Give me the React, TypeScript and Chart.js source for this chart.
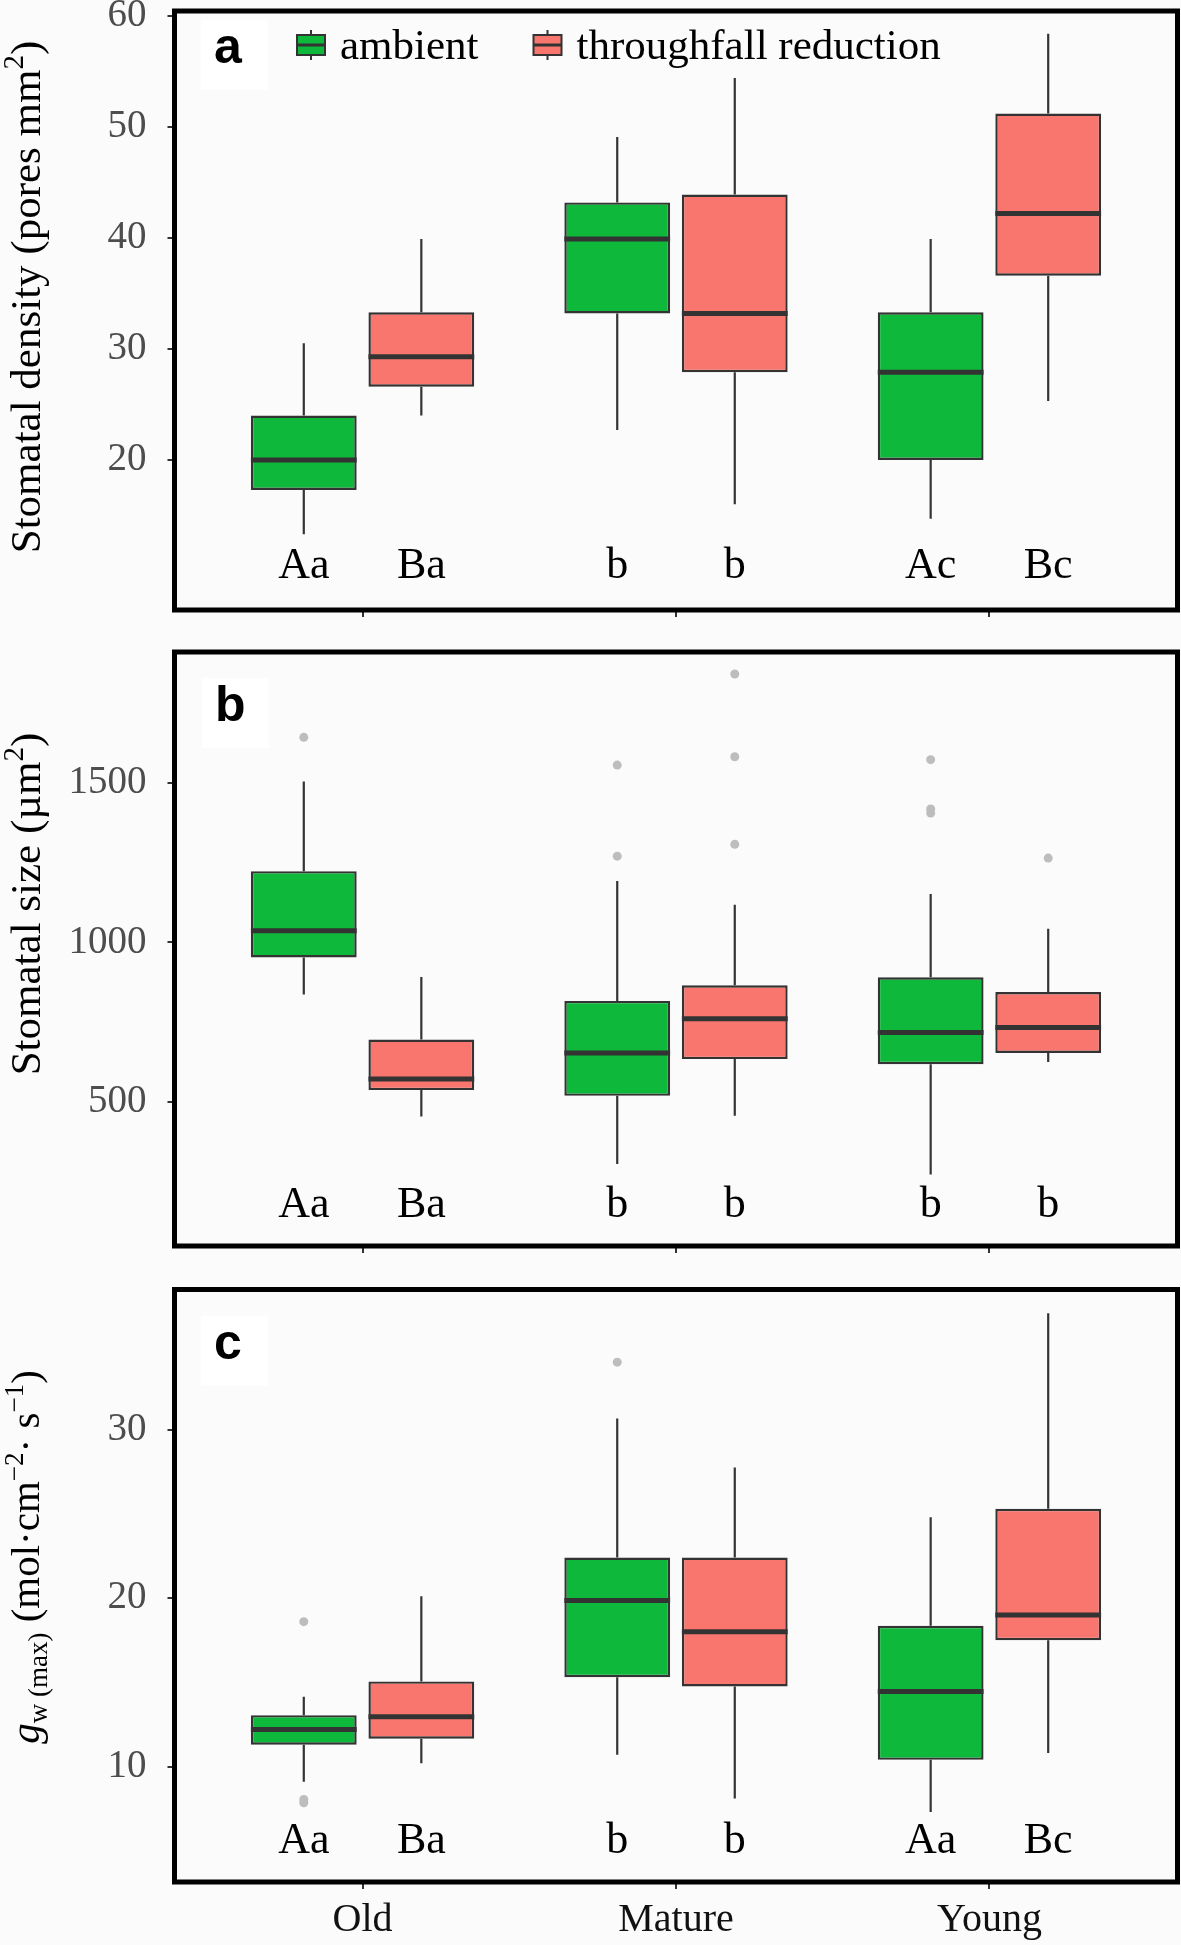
import React, { useEffect, useRef } from 'react';
import { Chart, registerables } from 'chart.js';

Chart.register(...registerables);

// ---------- data ----------
const categories = ['Old', 'Mature', 'Young'];
const seriesNames = ['ambient', 'throughfall reduction'];
const seriesColors = ['#0db83b', '#f8766d'];

// each entry: [lower whisker, Q1, median, Q3, upper whisker]
const densityAmbient = [[13.3, 17.3, 20.0, 24.0, 30.5], [22.7, 33.2, 39.9, 43.2, 49.1], [14.7, 20.0, 27.9, 33.3, 39.9]];
const densityReduction = [[24.0, 26.6, 29.3, 33.3, 39.9], [16.0, 27.9, 33.2, 43.9, 54.4], [25.3, 36.6, 42.2, 51.2, 58.4]];
const densityAmbientOutliers = [[], [], []];
const densityReductionOutliers = [[], [], []];
const densityAmbientLetters = ['Aa', 'b', 'Ac'];
const densityReductionLetters = ['Ba', 'b', 'Bc'];
const densityTicks = [20, 30, 40, 50, 60];

const sizeAmbient = [[837, 953, 1037, 1223, 1504], [307, 520, 654, 817, 1192], [274, 619, 718, 891, 1152]];
const sizeReduction = [[455, 538, 573, 696, 892], [458, 635, 761, 866, 1118], [626, 654, 734, 845, 1043]];
const sizeAmbientOutliers = [[1642], [1270, 1555], [1405, 1418, 1572]];
const sizeReductionOutliers = [[], [1307, 1581, 1840], [1264]];
const sizeAmbientLetters = ['Aa', 'b', 'b'];
const sizeReductionLetters = ['Ba', 'b', 'b'];
const sizeTicks = [500, 1000, 1500];

const gAmbient = [[9.1, 11.3, 12.2, 13.05, 14.15], [10.7, 15.3, 19.85, 22.4, 30.65], [7.3, 10.4, 14.45, 18.35, 24.8]];
const gReduction = [[10.2, 11.65, 12.95, 15.05, 20.1], [8.1, 14.75, 18.0, 22.4, 27.75], [10.8, 17.5, 19.0, 25.3, 36.9]];
const gAmbientOutliers = [[18.6, 8.05, 7.85], [34.0], []];
const gReductionOutliers = [[], [], []];
const gAmbientLetters = ['Aa', 'b', 'Aa'];
const gReductionLetters = ['Ba', 'b', 'Bc'];
const gTicks = [10, 20, 30];

// ---------- styling ----------
const SERIF = '"Liberation Serif", "Times New Roman", serif';
const SANS = '"Liberation Sans", Arial, sans-serif';
const LINE = '#333333';
const PAGE_BG = '#fbfbfb';

type Run = { t: string; s: number; it?: boolean; dy?: number };

interface PanelSpec {
  id: string;
  tag: string;
  top: number;
  height: number;
  padTop: number;
  xAxisHeight: number;
  showX: boolean;
  yMin: number;
  yMax: number;
  yTicks: number[];
  stats: number[][][];
  outliers: number[][][];
  letters: string[][];
  letterY: number;
  title: Run[];
  titleX: number;
  titleY: number;
  tagX: number;
  tagBaseline: number;
  legend: boolean;
}

const panels: PanelSpec[] = [
  {
    id: 'a', tag: 'a', top: 0, height: 640, padTop: 11, xAxisHeight: 30, showX: false,
    yMin: 6.48, yMax: 60.44, yTicks: densityTicks,
    stats: [densityAmbient, densityReduction],
    outliers: [densityAmbientOutliers, densityReductionOutliers],
    letters: [densityAmbientLetters, densityReductionLetters],
    letterY: 9.36,
    title: [
      { t: 'Stomatal density (pores mm', s: 43 },
      { t: '2', s: 29, dy: -17 },
      { t: ')', s: 43 },
    ],
    titleX: 40, titleY: 297, tagX: 214, tagBaseline: 63, legend: true,
  },
  {
    id: 'b', tag: 'b', top: 640, height: 630, padTop: 12, xAxisHeight: 24, showX: false,
    yMin: 50, yMax: 1909, yTicks: sizeTicks,
    stats: [sizeAmbient, sizeReduction],
    outliers: [sizeAmbientOutliers, sizeReductionOutliers],
    letters: [sizeAmbientLetters, sizeReductionLetters],
    letterY: 140,
    title: [
      { t: 'Stomatal size (\u00b5m', s: 43 },
      { t: '2', s: 29, dy: -17 },
      { t: ')', s: 43 },
    ],
    titleX: 40, titleY: 264, tagX: 215, tagBaseline: 81, legend: false,
  },
  {
    id: 'c', tag: 'c', top: 1270, height: 675, padTop: 19.5, xAxisHeight: 63, showX: true,
    yMin: 3.15, yMax: 38.31, yTicks: gTicks,
    stats: [gAmbient, gReduction],
    outliers: [gAmbientOutliers, gReductionOutliers],
    letters: [gAmbientLetters, gReductionLetters],
    letterY: 4.87,
    title: [
      { t: 'g', s: 41, it: true },
      { t: 'w (max)', s: 27, dy: 8 },
      { t: ' (mol\u00b7cm', s: 41 },
      { t: '\u22122', s: 27, dy: -16 },
      { t: '\u00b7 s', s: 41 },
      { t: '\u22121', s: 27, dy: -16 },
      { t: ')', s: 41 },
    ],
    titleX: 39, titleY: 287, tagX: 214, tagBaseline: 88.5, legend: false,
  },
];

function drawRich(ctx: CanvasRenderingContext2D, runs: Run[], cx: number, cy: number) {
  const fontOf = (r: Run) => `${r.it ? 'italic ' : ''}${r.s}px ${SERIF}`;
  let total = 0;
  const widths = runs.map((r) => {
    ctx.font = fontOf(r);
    const w = ctx.measureText(r.t).width;
    total += w;
    return w;
  });
  ctx.save();
  ctx.translate(cx, cy);
  ctx.rotate(-Math.PI / 2);
  ctx.textAlign = 'left';
  ctx.textBaseline = 'alphabetic';
  ctx.fillStyle = '#000';
  let x = -total / 2;
  runs.forEach((r, i) => {
    ctx.font = fontOf(r);
    ctx.fillText(r.t, x, r.dy || 0);
    x += widths[i];
  });
  ctx.restore();
}

function drawGlyph(ctx: CanvasRenderingContext2D, left: number, cy: number, color: string) {
  const w = 28;
  const h = 20;
  const cx = left + w / 2;
  ctx.strokeStyle = LINE;
  ctx.lineWidth = 2;
  ctx.beginPath();
  ctx.moveTo(cx, cy - h / 2 - 5);
  ctx.lineTo(cx, cy - h / 2);
  ctx.moveTo(cx, cy + h / 2);
  ctx.lineTo(cx, cy + h / 2 + 5);
  ctx.stroke();
  ctx.fillStyle = color;
  ctx.fillRect(left, cy - h / 2, w, h);
  ctx.strokeRect(left, cy - h / 2, w, h);
  ctx.lineWidth = 3;
  ctx.beginPath();
  ctx.moveTo(left, cy);
  ctx.lineTo(left + w, cy);
  ctx.stroke();
}

function makePlugin(p: PanelSpec) {
  return {
    id: 'boxExtras' + p.id,
    afterDatasetsDraw(chart: any) {
      const ctx: CanvasRenderingContext2D = chart.ctx;
      const ys = chart.scales.y;
      const area = chart.chartArea;
      ctx.save();
      ctx.beginPath();
      ctx.rect(area.left, area.top, area.right - area.left, area.bottom - area.top);
      ctx.clip();
      for (let d = 0; d < 2; d++) {
        const meta = chart.getDatasetMeta(d);
        meta.data.forEach((el: any, j: number) => {
          const [lo, q1, med, q3, hi] = p.stats[d][j];
          const x = el.x;
          const w = el.width;
          ctx.strokeStyle = LINE;
          ctx.lineCap = 'butt';
          ctx.lineWidth = 2.2;
          ctx.beginPath();
          ctx.moveTo(x, ys.getPixelForValue(q3));
          ctx.lineTo(x, ys.getPixelForValue(hi));
          ctx.moveTo(x, ys.getPixelForValue(q1));
          ctx.lineTo(x, ys.getPixelForValue(lo));
          ctx.stroke();
          ctx.lineWidth = 5;
          const ym = ys.getPixelForValue(med);
          ctx.beginPath();
          ctx.moveTo(x - w / 2, ym);
          ctx.lineTo(x + w / 2, ym);
          ctx.stroke();
          ctx.fillStyle = '#bdbdbd';
          p.outliers[d][j].forEach((v) => {
            ctx.beginPath();
            ctx.arc(x, ys.getPixelForValue(v), 4.5, 0, Math.PI * 2);
            ctx.fill();
          });
          ctx.fillStyle = '#000';
          ctx.font = `44px ${SERIF}`;
          ctx.textAlign = 'center';
          ctx.textBaseline = 'alphabetic';
          ctx.fillText(p.letters[d][j], x, ys.getPixelForValue(p.letterY));
        });
      }
      // panel tag with white patch
      ctx.fillStyle = '#ffffff';
      ctx.fillRect(p.tagX - 13, p.tagBaseline - 43, 67, 70);
      ctx.fillStyle = '#000';
      ctx.font = `bold 50px ${SANS}`;
      ctx.textAlign = 'left';
      ctx.textBaseline = 'alphabetic';
      ctx.fillText(p.tag, p.tagX, p.tagBaseline);
      // legend
      if (p.legend) {
        const cy = 45;
        let left = 297;
        chart.data.datasets.forEach((ds: any) => {
          drawGlyph(ctx, left, cy, ds.backgroundColor);
          ctx.fillStyle = '#000';
          ctx.font = `43px ${SERIF}`;
          ctx.textAlign = 'left';
          ctx.textBaseline = 'alphabetic';
          const tx = left + 43;
          ctx.fillText(ds.label, tx, 59);
          left = tx + ctx.measureText(ds.label).width + 55;
        });
      }
      ctx.restore();
    },
    afterDraw(chart: any) {
      const ctx: CanvasRenderingContext2D = chart.ctx;
      const a = chart.chartArea;
      ctx.save();
      ctx.strokeStyle = '#000';
      ctx.lineWidth = 5;
      ctx.strokeRect(a.left, a.top, a.right - a.left, a.bottom - a.top);
      ctx.restore();
      drawRich(ctx, p.title, p.titleX, p.titleY);
    },
  };
}

function buildConfig(p: PanelSpec): any {
  const datasets = p.stats.map((series, d) => ({
    label: seriesNames[d],
    data: series.map((s, j) => ({ x: j + 1, y: [s[1], s[3]] })),
    backgroundColor: seriesColors[d],
    borderColor: LINE,
    borderWidth: 2.4,
    borderSkipped: false,
    categoryPercentage: 0.75,
    barPercentage: 0.9,
  }));
  return {
    type: 'bar',
    data: { datasets },
    options: {
      responsive: false,
      animation: false,
      events: [],
      layout: { padding: { top: p.padTop, right: 3.5, left: 0, bottom: 0 } },
      plugins: { legend: { display: false }, tooltip: { enabled: false } },
      scales: {
        x: {
          type: 'linear',
          min: 0.4,
          max: 3.6,
          offset: false,
          afterBuildTicks: (s: any) => {
            s.ticks = categories.map((_, i) => ({ value: i + 1 }));
          },
          afterFit: (s: any) => {
            s.height = p.xAxisHeight;
            s.paddingLeft = 0;
            s.paddingRight = 0;
            s.paddingTop = 0;
            s.paddingBottom = 0;
          },
          grid: { display: true, offset: false, drawOnChartArea: false, drawTicks: true, tickLength: 7, color: LINE, lineWidth: 2 },
          border: { display: false },
          ticks: {
            display: p.showX,
            padding: 7,
            maxRotation: 0,
            autoSkip: false,
            color: '#111111',
            font: { family: SERIF, size: 40 },
            callback: (v: number) => categories[Math.round(v) - 1] ?? '',
          },
        },
        y: {
          type: 'linear',
          min: p.yMin,
          max: p.yMax,
          afterBuildTicks: (s: any) => {
            s.ticks = p.yTicks.map((v) => ({ value: v }));
          },
          afterFit: (s: any) => {
            s.width = 174.5;
            s.paddingTop = 0;
            s.paddingBottom = 0;
            s.paddingLeft = 0;
            s.paddingRight = 0;
          },
          grid: { display: true, drawOnChartArea: false, drawTicks: true, tickLength: 7, color: LINE, lineWidth: 2 },
          border: { display: false },
          ticks: {
            padding: 21,
            color: '#4d4d4d',
            font: { family: SERIF, size: 39 },
            callback: (v: number) => String(v),
          },
        },
      },
    },
    plugins: [makePlugin(p)],
  };
}

function Panel({ spec }: { spec: PanelSpec }) {
  const ref = useRef<HTMLCanvasElement>(null);
  useEffect(() => {
    const chart = new Chart(ref.current as HTMLCanvasElement, buildConfig(spec));
    return () => chart.destroy();
  }, [spec]);
  return (
    <canvas
      ref={ref}
      width={1181}
      height={spec.height}
      style={{ position: 'absolute', left: 0, top: spec.top, width: 1181, height: spec.height, display: 'block' }}
    />
  );
}

export default function App() {
  return (
    <div
      style={{
        position: 'absolute',
        left: 0,
        top: 0,
        width: 1181,
        height: 1945,
        background: PAGE_BG,
        overflow: 'hidden',
      }}
    >
      {panels.map((p) => (
        <Panel key={p.id} spec={p} />
      ))}
    </div>
  );
}
